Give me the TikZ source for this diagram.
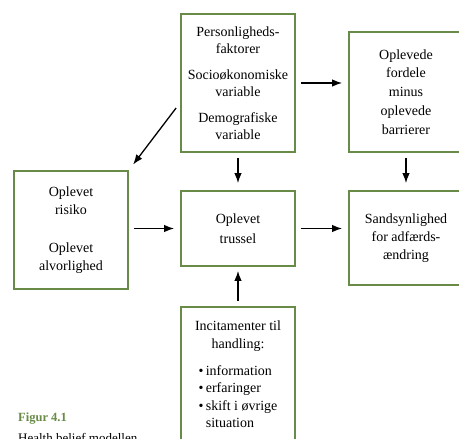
\documentclass[tikz,border=0pt]{standalone}
\usepackage{fontspec}
\setmainfont{Liberation Serif}
\usepackage{tikz}
\usetikzlibrary{calc,arrows.meta}
\definecolor{boxgreen}{RGB}{104,140,72}
\tikzstyle{greenbox}=[rectangle,draw=boxgreen,line width=1.8pt,fill=white,
                      minimum width=114pt,inner sep=0pt]
\tikzstyle{pil}=[line width=1.3pt,-{Latex[length=10pt,width=7.5pt]},
                 shorten <=5pt,shorten >=6pt]
\newcommand\boxlabel[2][18pt]{\parbox{112pt}{\centering\fontsize{14}{#1}\selectfont #2}}

\begin{document}
\begin{tikzpicture}[x=1pt,y=-1pt]
	\fill[white] (0,0) rectangle (459,439);
	\useasboundingbox (0,0) rectangle (459,439);
	\node [greenbox,minimum height=138pt] (pers) at (238,83) {
		\boxlabel[16.5pt]{Personligheds-\\faktorer\\[10pt]Socioøkonomiske\\variable\\[10pt]Demografiske\\variable}
	};
	\node [greenbox,minimum height=120pt] (fordele) at (406,92) {
		\boxlabel[18.8pt]{Oplevede\\fordele\\minus\\oplevede\\barrierer}
	};
	\node [greenbox,minimum height=118pt] (risiko) at (71,230) {
		\boxlabel[18.5pt]{Oplevet\\risiko\\[19pt]Oplevet\\alvorlighed}
	};
	\node [greenbox,minimum height=75pt] (trussel) at (238,228.5) {
		\boxlabel[20pt]{Oplevet\\trussel}
	};
	\node [greenbox,minimum height=94pt] (sandsyn) at (406,238) {
		\boxlabel{Sandsynlighed\\for adfærds-\\ændring}
	};
	\node [greenbox,minimum height=140pt] (incit) at (238,377) {
		\boxlabel[17.5pt]{Incitamenter til\\handling:\\[11pt]
			\begin{tabular}{@{}l@{\,}l@{}}
				\textbullet & information\\
				\textbullet & erfaringer\\
				\textbullet & skift i øvrige\\
				 & situation
			\end{tabular}}
	};
	\node [anchor=base west,text=boxgreen,font=\fontsize{12.5}{15}\selectfont\bfseries,inner sep=0pt]
		(figur) at (18,421) {Figur 4.1};
	\node [anchor=base west,font=\fontsize{13}{15}\selectfont,inner sep=0pt]
		(titel) at (18,442) {Health belief modellen};

	\draw [pil] (pers.east) -- (fordele.west |- pers.east);
	\draw [pil,shorten <=0pt,shorten >=7pt] ([xshift=-4pt,yshift=-25pt]pers.west) -- (risiko.north east);
	\draw [pil,shorten >=7pt] (pers.south) -- (trussel.north);
	\draw [pil,shorten >=7pt] (fordele.south) -- (sandsyn.north);
	\draw [pil] (risiko.east |- trussel.west) -- (trussel.west);
	\draw [pil] (trussel.east) -- (trussel.east -| sandsyn.west);
	\draw [pil,shorten >=4pt] (incit.north) -- (trussel.south);
\end{tikzpicture}
\end{document}
